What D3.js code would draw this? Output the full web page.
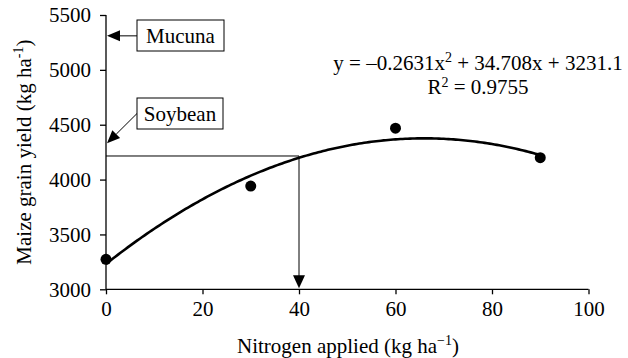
<!DOCTYPE html>
<html>
<head>
<meta charset="utf-8">
<script src="https://cdn.jsdelivr.net/npm/d3@7"></script>
<style>
  html, body { margin: 0; padding: 0; background: #fff; }
  svg { display: block; }
  svg text { font-family: "Liberation Serif", "Times New Roman", "DejaVu Serif", serif; }
</style>
</head>
<body>
<svg id="chart" width="628" height="358"></svg>
<script>
// ---- data ----
const nitrogenApplied = [0, 30, 60, 90];
const maizeYield = [3273, 3941, 4468, 4200];
const trendCoefficients = [-0.2631, 34.708, 3231.1]; // a, b, c from printed equation
const rSquared = "0.9755";
const xTicks = [0, 20, 40, 60, 80, 100];
const yTicks = [3000, 3500, 4000, 4500, 5000, 5500];
const legumeLabels = ["Mucuna", "Soybean"];
const legumeYields = [5310, 4330];
const soybeanEquivalentN = [40];
const soybeanLineYield = [4215];

// ---- layout ----
const svg = d3.select("#chart");
const x = d3.scaleLinear().domain([0, 100]).range([106, 588.5]);
const y = d3.scaleLinear().domain([3000, 5500]).range([289.3, 15]);
const fs = 21;
const sfs = 14;

// axes
const xAxis = d3.axisBottom(x).tickValues(xTicks).tickSize(5).tickPadding(7).tickFormat(d3.format("d"));
const yAxis = d3.axisLeft(y).tickValues(yTicks).tickSize(6).tickPadding(9).tickFormat(d3.format("d"));

const gx = svg.append("g").attr("transform", `translate(0,${y(3000)})`).call(xAxis);
const gy = svg.append("g").attr("transform", `translate(${x(0)},0)`).call(yAxis);
[gx, gy].forEach(g => {
  g.attr("font-family", null).attr("font-size", null);
  g.select(".domain").attr("stroke", "#000").attr("stroke-width", 1.3);
  g.selectAll(".tick line").attr("stroke", "#000").attr("stroke-width", 1.3);
  g.selectAll(".tick text").attr("fill", "#000").attr("font-size", fs);
});
gx.select(".domain").attr("d", `M${x(0)},0H${x(100)}`);
gy.select(".domain").attr("d", `M0,${y(3000)}V${y(5500)}`);

// axis titles
const xt = svg.append("text")
  .attr("x", 348).attr("y", 353)
  .attr("text-anchor", "middle").attr("font-size", fs);
xt.append("tspan").text("Nitrogen applied (kg ha");
xt.append("tspan").attr("dy", -8).attr("font-size", sfs).text("\u22121");
xt.append("tspan").attr("dy", 8).text(")");

const yt = svg.append("text")
  .attr("transform", `translate(31,${(y(3000) + y(5500)) / 2}) rotate(-90)`)
  .attr("text-anchor", "middle").attr("font-size", fs);
yt.append("tspan").text("Maize grain yield (kg ha");
yt.append("tspan").attr("dy", -8).attr("font-size", sfs).text("-1");
yt.append("tspan").attr("dy", 8).text(")");

// reference lines (soybean equivalent)
svg.append("line")
  .attr("x1", x(0)).attr("x2", x(soybeanEquivalentN[0]))
  .attr("y1", y(soybeanLineYield[0])).attr("y2", y(soybeanLineYield[0]))
  .attr("stroke", "#000").attr("stroke-width", 1);
svg.append("line")
  .attr("x1", x(soybeanEquivalentN[0])).attr("x2", x(soybeanEquivalentN[0]))
  .attr("y1", y(soybeanLineYield[0])).attr("y2", y(3000) - 10)
  .attr("stroke", "#000").attr("stroke-width", 1);
{
  const tx = x(soybeanEquivalentN[0]), ty = y(3000) - 1;
  svg.append("path")
    .attr("d", `M${tx},${ty} L${tx - 6},${ty - 13} L${tx + 6},${ty - 13} Z`)
    .attr("fill", "#000");
}

// trend curve
const a = trendCoefficients[0], b = trendCoefficients[1], c = trendCoefficients[2];
const curveX = d3.range(0, 90.01, 0.5);
const line = d3.line().x(d => x(d)).y(d => y(a * d * d + b * d + c));
svg.append("path")
  .datum(curveX)
  .attr("d", line)
  .attr("fill", "none").attr("stroke", "#000").attr("stroke-width", 2.6)
  .attr("stroke-linejoin", "round");

// observed points
svg.selectAll("circle.pt")
  .data(nitrogenApplied.map((n, i) => [n, maizeYield[i]]))
  .join("circle")
  .attr("class", "pt")
  .attr("cx", d => x(d[0])).attr("cy", d => y(d[1]))
  .attr("r", 5.5).attr("fill", "#000");

// equation labels
const eq = svg.append("text").attr("x", 478).attr("y", 70).attr("text-anchor", "middle").attr("font-size", fs);
eq.append("tspan").text(`y = \u2013${Math.abs(a)}x`);
eq.append("tspan").attr("dy", -8).attr("font-size", sfs).text("2");
eq.append("tspan").attr("dy", 8).text(` + ${b}x + ${c}`);
const r2 = svg.append("text").attr("x", 478).attr("y", 94).attr("text-anchor", "middle").attr("font-size", fs);
r2.append("tspan").text("R");
r2.append("tspan").attr("dy", -7).attr("font-size", sfs).text("2");
r2.append("tspan").attr("dy", 7).text(` = ${rSquared}`);

// legume annotation boxes
const boxes = [
  { label: legumeLabels[0], yv: legumeYields[0], bx: 137, by: 20, bw: 87, bh: 31 },
  { label: legumeLabels[1], yv: legumeYields[1], bx: 137, by: 98, bw: 86, bh: 31 }
];
boxes.forEach((bd, i) => {
  svg.append("rect")
    .attr("x", bd.bx).attr("y", bd.by).attr("width", bd.bw).attr("height", bd.bh)
    .attr("fill", "#fff").attr("stroke", "#000").attr("stroke-width", 1);
  svg.append("text")
    .attr("x", bd.bx + bd.bw / 2).attr("y", bd.by + bd.bh / 2 + 7)
    .attr("text-anchor", "middle").attr("font-size", fs).text(bd.label);
  const tipX = x(0) + 1, tipY = y(bd.yv);
  const startX = bd.bx, startY = i === 0 ? tipY : bd.by + bd.bh / 2;
  const ang = Math.atan2(tipY - startY, tipX - startX);
  const L = 13, W = 5.5;
  const baseX = tipX - L * Math.cos(ang), baseY = tipY - L * Math.sin(ang);
  svg.append("line")
    .attr("x1", startX).attr("y1", startY).attr("x2", baseX).attr("y2", baseY)
    .attr("stroke", "#000").attr("stroke-width", 1);
  const px = -Math.sin(ang) * W, py = Math.cos(ang) * W;
  svg.append("path")
    .attr("d", `M${tipX},${tipY} L${baseX + px},${baseY + py} L${baseX - px},${baseY - py} Z`)
    .attr("fill", "#000");
});
</script>
</body>
</html>
